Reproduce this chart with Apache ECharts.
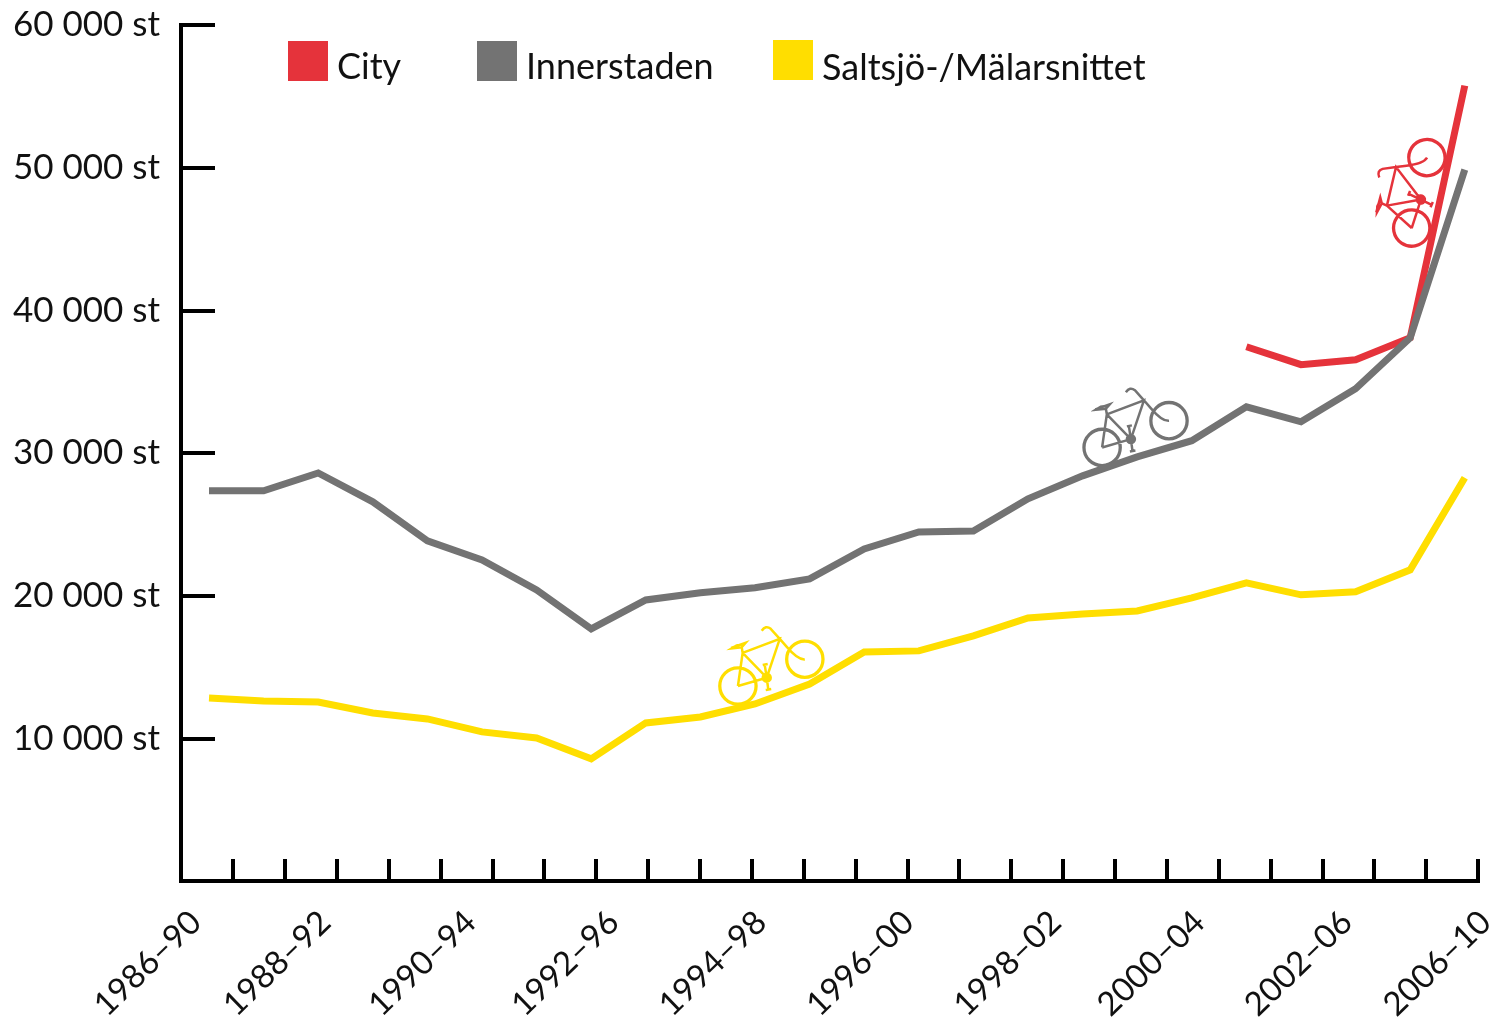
<!DOCTYPE html>
<html>
<head>
<meta charset="utf-8">
<title>Trafik</title>
<script src="https://cdn.jsdelivr.net/npm/echarts@6/dist/echarts.min.js"></script>
<style>
    html, body { margin: 0; padding: 0; background: #fff; }
    #main { width: 1494px; height: 1023px; }
</style>
</head>
<body>
<div id="main"></div>
<script>
const cityValues = [null, null, null, null, null, null, null, null, null, null, null, null,
    null, null, null, null, null, null, null, 37450, 36190, 36540, 38080, 55750];
const innerValues = [27350, 27350, 28600, 26580, 23840, 22510, 20400, 17670, 19700, 20200, 20550, 21180,
    23280, 24470, 24540, 26790, 28400, 29730, 30860, 33240, 32190, 34500, 38080, 49860];
const saltValues = [12830, 12620, 12550, 11780, 11360, 10450, 10030, 8560, 11080, 11500, 12410, 13810,
    16060, 16130, 17180, 18440, 18720, 18930, 19850, 20900, 20060, 20270, 21810, 28260];

const tickLabels = ['1986–90', '1988–92', '1990–94', '1992–96', '1994–98', '1996–00', '1998–02', '2000–04', '2002–06', '2006–10'];
// the labels are not evenly spaced in the original, where they sit on the point scale
const tickLabelAt = [-0.24, 2.13, 4.79, 7.41, 10.11, 12.81, 15.51, 18.14, 20.84, 23.38];

const FONT = 'Lato';
const RED = '#e5333b';
const GREY = '#737373';
const YELLOW = '#ffde00';

// little bicycle, drawn as a stroked outline
function circle(x, y, r) {
    const k = r * 0.5523;
    return `M${x - r} ${y}C${x - r} ${y - k} ${x - k} ${y - r} ${x} ${y - r}`
        + `C${x + k} ${y - r} ${x + r} ${y - k} ${x + r} ${y}`
        + `C${x + r} ${y + k} ${x + k} ${y + r} ${x} ${y + r}`
        + `C${x - k} ${y + r} ${x - r} ${y + k} ${x - r} ${y}Z`;
}
const bike = 'path://' + [
    circle(48.3, 76, 18.5), circle(48.3, 76, 17.7),
    circle(115, 49.3, 18.5), circle(115, 49.3, 17.7),
    circle(77, 67.7, 4), circle(77, 67.7, 2), // crank hub, solid
    'M48.3 76L77 67.7L90 29L53 43L48.3 76',
    'M53 43L77 67.7',
    'M41.5 38L56 33L52 37.5L42 38.5L47 35.5L54 34.5',
    'M52 37L53 43',
    'M90 29L97 37Q108 50 115 49.5',
    'M90 29L81 19Q76 15 72 21',
    'M77 67.7L75 55M73 55L78 54M77 67.7L78.5 79M76 80L81.5 79'
].join('');

function bikeSeries(name, color, point, rotate) {
    return {
        name: name,
        type: 'scatter',
        xAxisIndex: 1,
        yAxisIndex: 1,
        silent: true,
        symbol: bike,
        symbolKeepAspect: true,
        symbolSize: 104,
        symbolRotate: rotate,
        itemStyle: { color: 'none', borderColor: color, borderWidth: 2.5, opacity: 1 },
        data: [point],
        z: 1
    };
}

function lineSeries(name, color, values) {
    return {
        name: name,
        type: 'line',
        xAxisIndex: 1,
        yAxisIndex: 1,
        symbol: 'none',
        silent: true,
        itemStyle: { color: color },
        lineStyle: { color: color, width: 7, cap: 'butt', join: 'miter' },
        data: values.map((v, i) => [i, v])
    };
}

function legendItem(name, left, top, lineHeight) {
    return {
        left: left,
        top: top,
        orient: 'horizontal',
        padding: 0,
        itemWidth: 40,
        itemHeight: 40,
        icon: 'rect',
        selectedMode: false,
        data: [name],
        formatter: '{t|{name}}',
        textStyle: {
            padding: [0, 0, 0, 4],
            rich: { t: { fontFamily: FONT, fontSize: 36, color: '#111', lineHeight: lineHeight, verticalAlign: 'bottom' } }
        }
    };
}

const chart = echarts.init(document.getElementById('main'));
chart.setOption({
    animation: false,
    backgroundColor: '#fff',
    legend: [
        legendItem('City', 288, 41, 48),
        legendItem('Innerstaden', 477, 41, 48),
        legendItem('Saltsjö-/Mälarsnittet', 773, 40, 52)
    ],
    // second grid runs to the page edge so the last label fits on the point scale
    grid: [
        { left: 181, right: 16, top: 25, bottom: 142, outerBoundsMode: 'none' },
        { left: 181, right: 0, top: 25, bottom: 142, outerBoundsMode: 'none' }
    ],
    xAxis: [
        {
            // tick ruler, has its own spacing
            type: 'value',
            gridIndex: 0,
            min: 0,
            max: 25,
            interval: 1,
            splitLine: { show: false },
            axisLabel: { show: false },
            axisLine: { lineStyle: { color: '#000', width: 4, cap: 'square' } },
            axisTick: { inside: true, length: 22, lineStyle: { color: '#000', width: 4 } }
        },
        {
            // measuring points
            type: 'value',
            gridIndex: 1,
            min: -0.513,
            max: 23.535,
            splitLine: { show: false },
            axisLine: { show: false },
            axisTick: { show: false },
            axisLabel: {
                customValues: tickLabelAt,
                formatter: v => tickLabels[tickLabelAt.indexOf(v)],
                rotate: 44,
                margin: 36,
                fontFamily: FONT,
                fontSize: 33,
                color: '#111',
                hideOverlap: false
            }
        }
    ],
    yAxis: [
        {
            type: 'value',
            gridIndex: 0,
            min: 0,
            max: 60000,
            interval: 10000,
            splitLine: { show: false },
            axisLine: { show: true, lineStyle: { color: '#000', width: 4, cap: 'square' } },
            axisTick: { show: true, inside: true, length: 34, lineStyle: { color: '#000', width: 4 } },
            axisLabel: {
                margin: 21,
                fontFamily: FONT,
                fontSize: 35,
                color: '#111',
                formatter: v => v === 0 ? '' : (v / 1000) + ' 000 st'
            }
        },
        {
            type: 'value',
            gridIndex: 1,
            min: 0,
            max: 60000,
            show: false
        }
    ],
    series: [
        bikeSeries('bike city', RED, [22.065, 48500], 56),
        bikeSeries('bike inner', GREY, [16.97, 31800], 0),
        bikeSeries('bike salt', YELLOW, [10.3, 15080], 0),
        lineSeries('City', RED, cityValues),
        lineSeries('Innerstaden', GREY, innerValues),
        lineSeries('Saltsjö-/Mälarsnittet', YELLOW, saltValues)
    ]
});
</script>
</body>
</html>
